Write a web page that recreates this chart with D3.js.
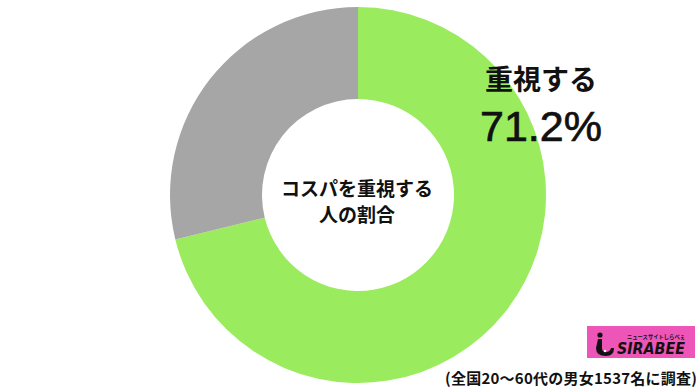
<!DOCTYPE html>
<html>
<head>
<meta charset="utf-8">
<script src="https://cdn.jsdelivr.net/npm/d3@7"></script>
<style>
  html, body { margin: 0; padding: 0; background: #fff; }
  svg { display: block; font-family: "Noto Sans CJK JP", "Noto Sans", sans-serif; }
</style>
</head>
<body>
<svg id="chart" width="700" height="392"></svg>
<script>
const categories = ["重視する", "重視しない"];
const values = [71.2, 28.8];
const colors = ["#9beb5f", "#a6a6a6"];
const centerLines = ["コスパを重視する", "人の割合"];
const labelName = "重視する";
const labelValue = "71.2%";
const footnote = "(全国20〜60代の男女1537名に調査)";

const svg = d3.select("#chart");
const cx = 358, cy = 195, outerR = 188, innerR = 96;

const pie = d3.pie().sort(null).value(d => d.value);
const arc = d3.arc().innerRadius(innerR).outerRadius(outerR);
const color = d3.scaleOrdinal().domain(categories).range(colors);

const g = svg.append("g").attr("transform", `translate(${cx},${cy})`);
g.selectAll("path")
  .data(pie(categories.map((c, i) => ({ cat: c, value: values[i] }))))
  .join("path")
  .attr("d", arc)
  .attr("fill", d => color(d.data.cat));

// center text
g.selectAll("text.center")
  .data(centerLines)
  .join("text")
  .attr("class", "center")
  .attr("x", -1)
  .attr("y", (d, i) => -8 + i * 26)
  .attr("text-anchor", "middle")
  .attr("dominant-baseline", "central")
  .attr("font-size", 19)
  .attr("font-weight", 700)
  .attr("fill", "#111")
  .text(d => d);

// outside label
svg.append("text")
  .attr("x", 541).attr("y", 78)
  .attr("text-anchor", "middle")
  .attr("dominant-baseline", "central")
  .attr("font-size", 28)
  .attr("font-weight", 700)
  .attr("fill", "#111")
  .text(labelName);

svg.append("text")
  .attr("x", 541).attr("y", 141)
  .attr("text-anchor", "middle")
  .style("font-family", "'Liberation Sans', Arial, sans-serif")
  .attr("font-size", 43)
  .attr("font-weight", 400)
  .attr("fill", "#111")
  .attr("stroke", "#111")
  .attr("stroke-width", 0.7)
  .text(labelValue);

// footnote
svg.append("text")
  .attr("x", 697).attr("y", 377)
  .attr("text-anchor", "end")
  .attr("dominant-baseline", "central")
  .attr("font-size", 15)
  .attr("font-weight", 700)
  .attr("textLength", 252)
  .attr("lengthAdjust", "spacing")
  .attr("fill", "#111")
  .text(footnote);

// logo
const logo = svg.append("g").attr("transform", "translate(587,326)");
logo.append("rect").attr("width", 108).attr("height", 32).attr("fill", "#ee55b8");
logo.append("circle").attr("cx", 13).attr("cy", 9).attr("r", 2.6).attr("fill", "#111");
logo.append("path")
  .attr("d", "M11,13 L15,13 L15,22 Q15,26 19,26 Q23,26 24,22 L27,22 Q27,30 19,30 Q9,30 9,22 Z")
  .attr("fill", "#111");
logo.append("circle").attr("cx", 18).attr("cy", 25).attr("r", 1.2).attr("fill", "#fff");
logo.append("text")
  .attr("x", 40).attr("y", 13)
  .attr("font-size", 5.5)
  .attr("font-weight", 700)
  .attr("textLength", 58)
  .attr("lengthAdjust", "spacingAndGlyphs")
  .attr("fill", "#111")
  .text("ニュースサイトしらべぇ");
logo.append("text")
  .attr("x", 30).attr("y", 28)
  .style("font-family", "'DejaVu Sans', sans-serif")
  .attr("font-size", 15)
  .attr("font-weight", 700)
  .attr("font-style", "italic")
  .attr("textLength", 68)
  .attr("lengthAdjust", "spacingAndGlyphs")
  .attr("fill", "#111")
  .text("SIRABEE");
</script>
</body>
</html>
